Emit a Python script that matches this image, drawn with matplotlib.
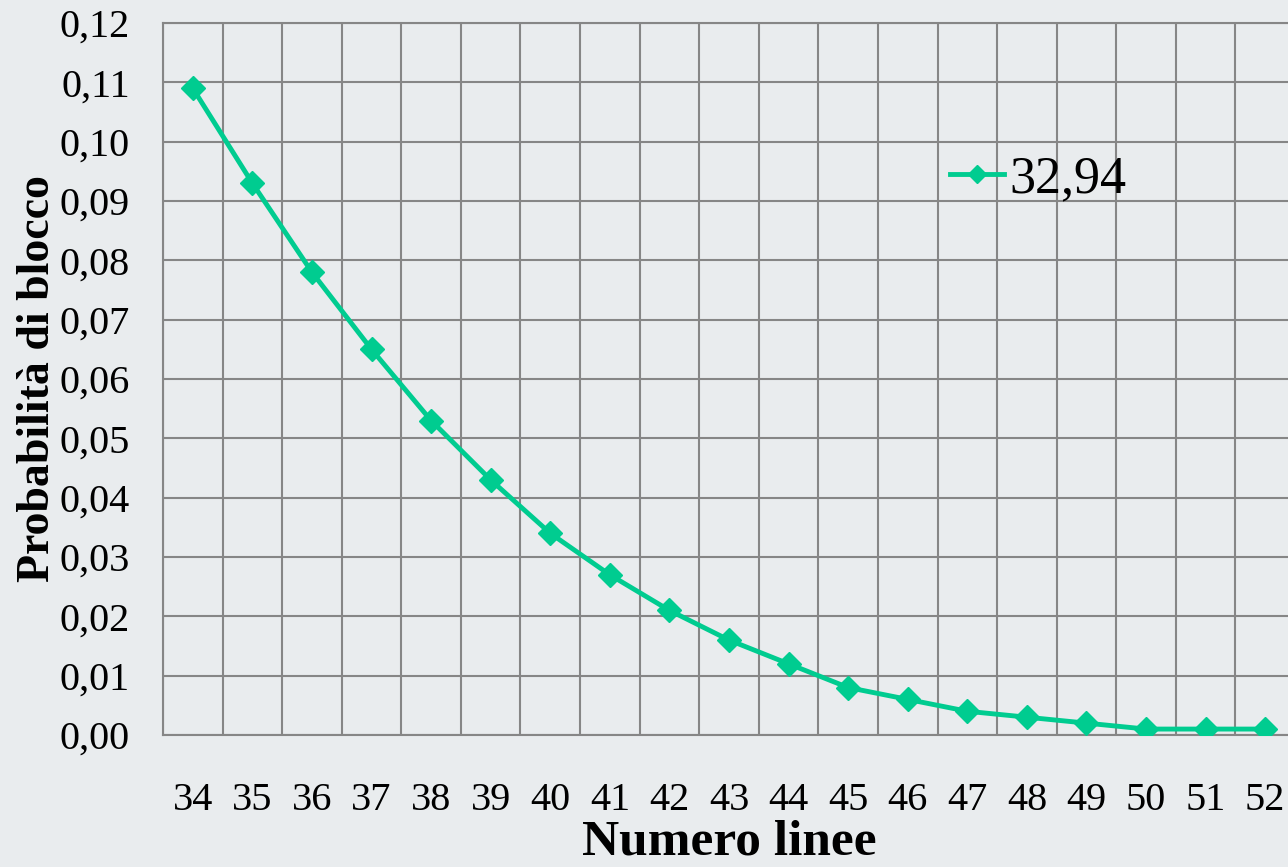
import matplotlib.pyplot as plt
import numpy as np

# ---------- dati ----------
linee = [34, 35, 36, 37, 38, 39, 40, 41, 42, 43, 44, 45, 46, 47, 48, 49, 50, 51, 52]
prob_blocco = [0.109, 0.093, 0.078, 0.065, 0.053, 0.043, 0.034, 0.027, 0.021, 0.016,
               0.012, 0.008, 0.006, 0.004, 0.003, 0.002, 0.001, 0.001, 0.001]
serie = "32,94"
y_ticks = [0.00, 0.01, 0.02, 0.03, 0.04, 0.05, 0.06, 0.07, 0.08, 0.09, 0.10, 0.11, 0.12]

plt.rcParams['font.family'] = ['Liberation Serif', 'DejaVu Serif']

fig = plt.figure(figsize=(12.88, 8.67), dpi=100, facecolor='#e9ecee')
ax = fig.add_axes([163 / 1288, 132 / 867, 1132 / 1288, 712 / 867])
ax.set_facecolor('#e9ecee')

ax.plot(linee, prob_blocco, color='#00cc90', lw=3.5, marker='D', markersize=12,
        label=serie, zorder=3)

ax.set_xlim(33.5, 52.5)
ax.set_ylim(0, 0.12)
ax.set_xticks(linee)
ax.set_xticklabels([str(v) for v in linee])
ax.set_xticks(np.arange(33.5, 52.6, 1), minor=True)
ax.set_yticks(y_ticks)
ax.set_yticklabels([f"{v:.2f}".replace('.', ',') for v in y_ticks])

ax.grid(True, which='minor', axis='x', color='#868686', lw=1.5)
ax.grid(True, which='major', axis='y', color='#868686', lw=1.5)
ax.tick_params(which='both', length=0)
ax.tick_params(axis='x', labelsize=29, pad=34)
ax.tick_params(axis='y', labelsize=29, pad=24)
for s in ax.spines.values():
    s.set_color('#868686')
    s.set_linewidth(1.5)

ax.set_xlabel("Numero linee", fontsize=37, fontweight='bold', labelpad=0)
ax.set_ylabel("Probabilità di blocco", fontsize=33, fontweight='bold', labelpad=0)

ax.legend(loc='center left', bbox_to_anchor=(0.695, 0.78), frameon=False,
          fontsize=37.5, handlelength=1.05, handletextpad=0.1, markerscale=0.75,
          borderpad=0, borderaxespad=0)

fig.savefig("out.png", dpi=100, facecolor=fig.get_facecolor())
